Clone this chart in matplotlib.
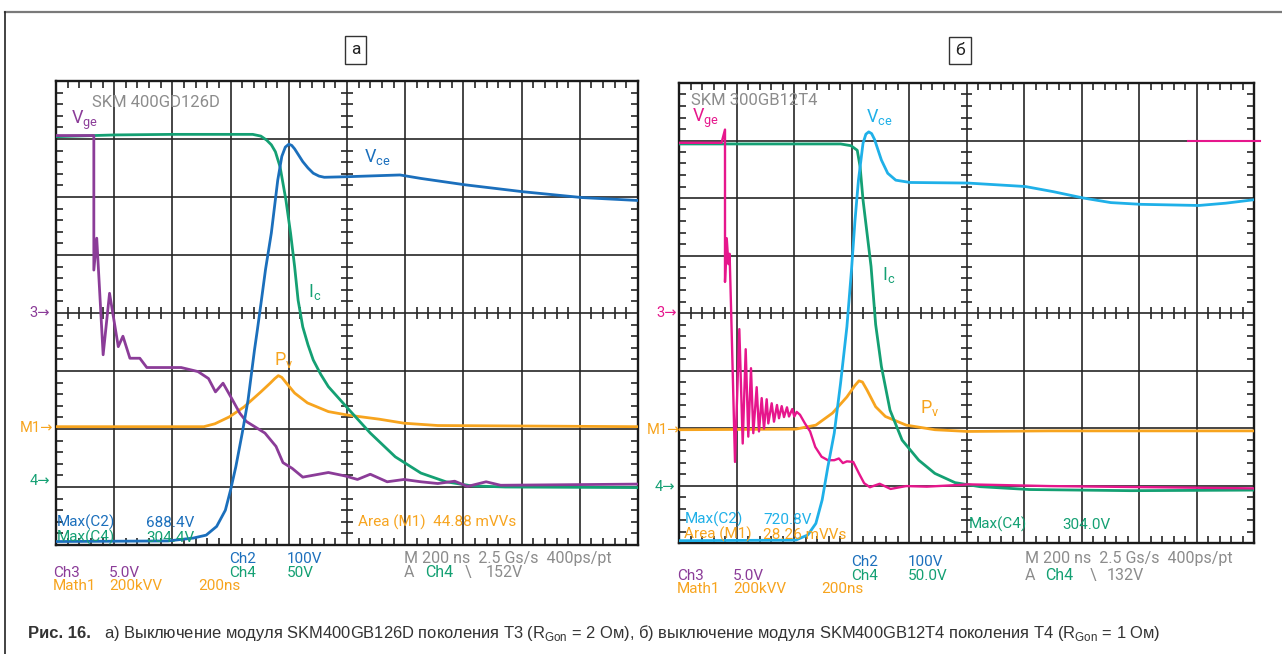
import matplotlib
matplotlib.use("Agg")
import matplotlib.pyplot as plt
from matplotlib import font_manager
from matplotlib.collections import LineCollection
from matplotlib.lines import Line2D

# ============================================================
# Oscillogram data (units = screen divisions, 10 x 8)
# ============================================================

# --- panel а: SKM 400GD126D ---
a_vge_x = [0, 0.65, 0.65, 0.70, 0.81, 0.92, 1.07, 1.15, 1.27, 1.44, 1.56, 2.15, 2.44,
           2.62, 2.74, 2.87, 3.00, 3.16, 3.27, 3.59, 3.78, 3.90, 4.06, 4.24, 4.68, 4.97,
           5.18, 5.40, 5.69, 5.98, 6.27, 6.56, 6.85, 7.07, 7.39, 7.64, 10.0]
a_vge_y = [7.06, 7.06, 4.74, 5.29, 3.28, 4.34, 3.42, 3.60, 3.22, 3.22, 3.06, 3.06, 2.99,
           2.87, 2.64, 2.79, 2.56, 2.27, 2.13, 1.93, 1.70, 1.42, 1.32, 1.17, 1.25, 1.19,
           1.13, 1.22, 1.09, 1.13, 1.09, 1.06, 1.10, 1.01, 1.09, 1.03, 1.05]

a_ic_x = [0, 1.0, 2.0, 3.0, 3.38, 3.52, 3.62, 3.70, 3.77, 3.85, 3.95, 4.03, 4.10, 4.16, 4.24,
          4.33, 4.42, 4.55, 4.68, 5.01, 5.40, 5.83, 6.27, 6.70, 7.14, 7.72, 10.0]
a_ic_y = [7.04, 7.07, 7.08, 7.08, 7.08, 7.05, 6.98, 6.90, 6.78, 6.52, 5.95, 5.38, 4.80, 4.22,
          3.76, 3.45, 3.19, 2.94, 2.73, 2.36, 1.93, 1.52, 1.24, 1.09, 1.02, 1.00, 0.99]

a_vce_x = [0, 1.93, 2.36, 2.58, 2.76, 2.91, 3.00, 3.09, 3.20, 3.30, 3.41, 3.46, 3.52, 3.60,
           3.70, 3.81, 3.88, 3.94, 4.00, 4.05, 4.10, 4.17, 4.24, 4.33, 4.42, 4.52, 4.61, 5.01,
           5.91, 6.27, 7.03, 8.03, 9.04, 10.0]
a_vce_y = [0.06, 0.07, 0.12, 0.17, 0.32, 0.60, 0.95, 1.35, 1.93, 2.50, 3.36, 3.71, 4.15, 4.75,
           5.38, 6.29, 6.70, 6.86, 6.91, 6.89, 6.83, 6.72, 6.61, 6.50, 6.41, 6.36, 6.34, 6.35,
           6.38, 6.32, 6.21, 6.09, 5.99, 5.94]

a_pv_x = [0, 2.54, 2.73, 2.98, 3.23, 3.52, 3.68, 3.76, 3.82, 3.88, 3.96, 4.10, 4.32, 4.68,
          5.01, 5.55, 5.98, 6.56, 10.0]
a_pv_y = [2.04, 2.04, 2.09, 2.21, 2.38, 2.64, 2.79, 2.87, 2.92, 2.89, 2.79, 2.62, 2.45, 2.30,
          2.24, 2.17, 2.10, 2.06, 2.04]

# --- panel б: SKM 300GB12T4 ---
b_vge_x = [0, 0.74, 0.80, 0.80, 0.83, 0.86, 0.88, 0.905, 0.974, 1.049, 1.108, 1.160, 1.205,
           1.252, 1.292, 1.351, 1.391, 1.438, 1.478, 1.525, 1.553, 1.612, 1.652, 1.704,
           1.739, 1.786, 1.826, 1.878, 1.913, 1.970, 2.005, 2.047, 2.104, 2.19, 2.28, 2.37,
           2.48, 2.59, 2.70, 2.78, 2.85, 2.92, 3.03, 3.13, 3.22, 3.32, 3.49, 3.68, 3.95,
           4.31, 4.88, 5.02, 6.44, 10.0]
b_vge_y = [6.96, 6.96, 7.19, 4.54, 5.30, 4.85, 5.03, 4.10, 1.41, 3.72, 1.73, 3.37, 1.85,
           3.04, 1.91, 2.71, 1.94, 2.52, 1.99, 2.50, 2.08, 2.43, 2.11, 2.40,
           2.17, 2.38, 2.19, 2.36, 2.20, 2.33, 2.20, 2.28, 2.23, 2.08, 1.94, 1.67,
           1.50, 1.44, 1.44, 1.47, 1.39, 1.42, 1.41, 1.21, 1.04, 0.97, 1.03, 0.94, 0.99,
           0.98, 1.01, 1.02, 0.99, 0.95]
b_vge_on_x = [8.85, 10.1]
b_vge_on_y = [6.99, 6.99]

b_ic_x = [0, 1.0, 2.0, 2.81, 2.99, 3.10, 3.15, 3.20, 3.27, 3.34, 3.42, 3.52, 3.67, 3.88,
          4.17, 4.45, 4.80, 5.23, 6.09, 7.86, 10.0]
b_ic_y = [6.94, 6.94, 6.94, 6.94, 6.91, 6.83, 6.54, 5.97, 5.39, 4.81, 3.80, 3.07, 2.31, 1.79,
          1.44, 1.21, 1.05, 0.98, 0.93, 0.91, 0.92]

b_vce_x = [0, 2.03, 2.24, 2.38, 2.49, 2.59, 2.70, 2.81, 2.92, 3.00, 3.06, 3.12, 3.20, 3.25,
           3.30, 3.35, 3.40, 3.52, 3.63, 3.77, 4.02, 5.02, 6.02, 6.51, 7.03, 7.51, 8.03, 9.04,
           9.51, 10.0]
b_vce_y = [0.04, 0.05, 0.14, 0.34, 0.75, 1.33, 1.91, 2.78, 3.76, 4.75, 5.60, 6.30, 6.95, 7.11,
           7.15, 7.12, 7.02, 6.66, 6.43, 6.31, 6.27, 6.26, 6.20, 6.11, 6.00, 5.92, 5.89, 5.87,
           5.91, 5.97]

b_pv_x = [0, 2.03, 2.38, 2.67, 2.92, 3.06, 3.13, 3.19, 3.27, 3.42, 3.59, 3.95, 4.45, 5.02,
          6.44, 10.0]
b_pv_y = [1.97, 1.98, 2.05, 2.26, 2.54, 2.74, 2.82, 2.80, 2.66, 2.37, 2.20, 2.05, 1.97, 1.94,
          1.95, 1.95]

# ============================================================
# Colours and fonts
# ============================================================

C_PURPLE = "#8b3c98"
C_MAGENTA = "#e6168c"
C_GREEN = "#14a073"
C_BLUE = "#1b6fbc"
C_CYAN = "#1fb0e8"
C_ORANGE = "#f7a41e"
C_GRAY = "#8c8c8c"
C_GRID = "#262626"

names = {f.name for f in font_manager.fontManager.ttflist}
narrow = "Liberation Sans Narrow" if "Liberation Sans Narrow" in names else "Liberation Sans"

plt.rcParams["font.family"] = ["Roboto", "DejaVu Sans"]

W, H = 1282, 654
fig = plt.figure(figsize=(W / 100, H / 100), dpi=100)


def fx(px):
    return px / W


def fy(py):
    return 1 - py / H


def txt(px, py, s, color, size=11, **kw):
    kw.setdefault("ha", "left")
    kw.setdefault("va", "baseline")
    fig.text(fx(px), fy(py), s, color=color, fontsize=size, **kw)


def scope_grid(ax):
    ax.set_xlim(0, 10)
    ax.set_ylim(0, 8)
    ax.set_xticks([])
    ax.set_yticks([])
    for sp in ax.spines.values():
        sp.set_linewidth(1.7)
        sp.set_color("#1a1a1a")
    for x in range(1, 10):
        ax.axvline(x, color=C_GRID, lw=1.2, zorder=1)
    for y in range(1, 8):
        ax.axhline(y, color=C_GRID, lw=1.2, zorder=1)

    segs = []
    tx, ty = 0.12, 0.12
    for i in range(1, 50):
        if i % 5 == 0:
            continue
        x = i * 0.2
        segs.append([(x, 8), (x, 8 - ty)])
        segs.append([(x, 0), (x, ty)])
        segs.append([(x, 4 - 0.1), (x, 4 + 0.1)])
    for i in range(1, 40):
        if i % 5 == 0:
            continue
        y = i * 0.2
        segs.append([(0, y), (tx, y)])
        segs.append([(10, y), (10 - tx, y)])
        segs.append([(5 - 0.1, y), (5 + 0.1, y)])
    ax.add_collection(LineCollection(segs, colors=C_GRID, linewidths=1.2, zorder=1))


LW = 2.0

# ============================================================
# Panel а
# ============================================================
ax_a = fig.add_axes([fx(56), fy(545), (638 - 56) / W, (545 - 81) / H])
scope_grid(ax_a)
ax_a.plot(a_pv_x, a_pv_y, color=C_ORANGE, lw=LW, zorder=3)
ax_a.plot(a_ic_x, a_ic_y, color=C_GREEN, lw=LW, zorder=3)
ax_a.plot(a_vge_x, a_vge_y, color=C_PURPLE, lw=LW, zorder=4)
ax_a.plot(a_vce_x, a_vce_y, color=C_BLUE, lw=LW, zorder=4)

# ============================================================
# Panel б
# ============================================================
ax_b = fig.add_axes([fx(679), fy(543), (1254 - 679) / W, (543 - 83) / H])
scope_grid(ax_b)
ax_b.plot(b_pv_x, b_pv_y, color=C_ORANGE, lw=LW, zorder=3)
ax_b.plot(b_ic_x, b_ic_y, color=C_GREEN, lw=LW, zorder=3)
ax_b.plot(b_vge_x, b_vge_y, color=C_MAGENTA, lw=1.7, zorder=4)
ax_b.plot(b_vge_on_x, b_vge_on_y, color=C_MAGENTA, lw=1.5, zorder=4, clip_on=False)
ax_b.plot(b_vce_x, b_vce_y, color=C_CYAN, lw=LW, zorder=4)

# ============================================================
# Texts in panel а
# ============================================================
txt(92, 107, "SKM 400GD126D", C_GRAY, 12)
txt(71, 124, r"V$_{\mathregular{ge}}$", C_PURPLE, 13)
txt(364, 162, r"V$_{\mathregular{ce}}$", C_BLUE, 13)
txt(308, 297, r"I$_{\mathregular{c}}$", C_GREEN, 13)
txt(274, 365, r"P$_{\mathregular{v}}$", C_ORANGE, 13)

txt(50, 313, "3→", C_PURPLE, 10.5, ha="right", va="center")
txt(53, 428, "M1→", C_ORANGE, 10.5, ha="right", va="center")
txt(50, 481, "4→", C_GREEN, 10.5, ha="right", va="center")

txt(57, 527, "Max(C2)", C_BLUE)
txt(146, 527, "688.4V", C_BLUE)
txt(57, 542, "Max(C4)", C_GREEN)
txt(146, 542, "304.4V", C_GREEN)
txt(358, 527, "Area (M1)  44.88 mVVs", C_ORANGE)

txt(229, 563, "Ch2", C_BLUE)
txt(287, 563, "100V", C_BLUE)
txt(229, 577, "Ch4", C_GREEN)
txt(287, 577, "50V", C_GREEN)
txt(53, 577, "Ch3", C_PURPLE)
txt(109, 577, "5.0V", C_PURPLE)
txt(53, 590, "Math1", C_ORANGE)
txt(109, 590, "200kVV", C_ORANGE)
txt(198, 590, "200ns", C_ORANGE)

txt(404, 563, "M 200 ns  2.5 Gs/s  400ps/pt", C_GRAY, 11.5)
txt(404, 577, "A", C_GRAY, 11.5)
txt(425, 577, "Ch4", C_GREEN, 11.5)
txt(465, 577, "\\", C_GRAY, 11.5)
txt(486, 577, "152V", C_GRAY, 11.5)

# ============================================================
# Texts in panel б
# ============================================================
txt(691, 105, "SKM 300GB12T4", C_GRAY, 12)
txt(692, 122, r"V$_{\mathregular{ge}}$", C_MAGENTA, 13)
txt(866, 122, r"V$_{\mathregular{ce}}$", C_CYAN, 13)
txt(882, 280, r"I$_{\mathregular{c}}$", C_GREEN, 13)
txt(920, 413, r"P$_{\mathregular{v}}$", C_ORANGE, 13)

txt(677, 313, "3→", C_MAGENTA, 10.5, ha="right", va="center")
txt(680, 430, "M1→", C_ORANGE, 10.5, ha="right", va="center")
txt(675, 487, "4→", C_GREEN, 10.5, ha="right", va="center")

txt(685, 524, "Max(C2)", C_CYAN)
txt(763, 524, "720.8V", C_CYAN)
txt(684, 539, "Area (M1)", C_ORANGE)
txt(763, 539, "28.26 mVVs", C_ORANGE)
txt(969, 529, "Max(C4)", C_GREEN)
txt(1062, 529, "304.0V", C_GREEN)

txt(851, 566, "Ch2", C_BLUE)
txt(908, 566, "100V", C_BLUE)
txt(851, 580, "Ch4", C_GREEN)
txt(908, 580, "50.0V", C_GREEN)
txt(677, 580, "Ch3", C_PURPLE)
txt(733, 580, "5.0V", C_PURPLE)
txt(677, 593, "Math1", C_ORANGE)
txt(733, 593, "200kVV", C_ORANGE)
txt(821, 593, "200ns", C_ORANGE)

txt(1025, 563, "M 200 ns  2.5 Gs/s  400ps/pt", C_GRAY, 11.5)
txt(1025, 580, "A", C_GRAY, 11.5)
txt(1045, 580, "Ch4", C_GREEN, 11.5)
txt(1090, 580, "\\", C_GRAY, 11.5)
txt(1107, 580, "132V", C_GRAY, 11.5)

# ============================================================
# Panel letters, frame and caption
# ============================================================
box = dict(boxstyle="square,pad=0.35", fc="white", ec="#333333", lw=1.0)
txt(355.6, 50, "а", "#222222", 12.5, ha="center", va="center", bbox=box)
txt(960, 50.5, "б", "#222222", 12.5, ha="center", va="center", bbox=box)

fig.add_artist(Line2D([fx(5), 1], [fy(12), fy(12)], transform=fig.transFigure,
                      color="#7a7a7a", lw=1.6))
fig.add_artist(Line2D([fx(5), fx(5)], [fy(12), 0], transform=fig.transFigure,
                      color="#222222", lw=1.2))

txt(28, 638, "Рис. 16.", "#333333", 12, fontweight="bold", family=narrow)
txt(104, 638,
    r"а) Выключение модуля SKM400GB126D поколения T3 (R$_{\mathregular{Gon}}$ = 2 Ом), "
    r"б) выключение модуля SKM400GB12T4 поколения T4 (R$_{\mathregular{Gon}}$ = 1 Ом)",
    "#333333", 11.9, family=narrow)

fig.savefig("out.png", dpi=100)
